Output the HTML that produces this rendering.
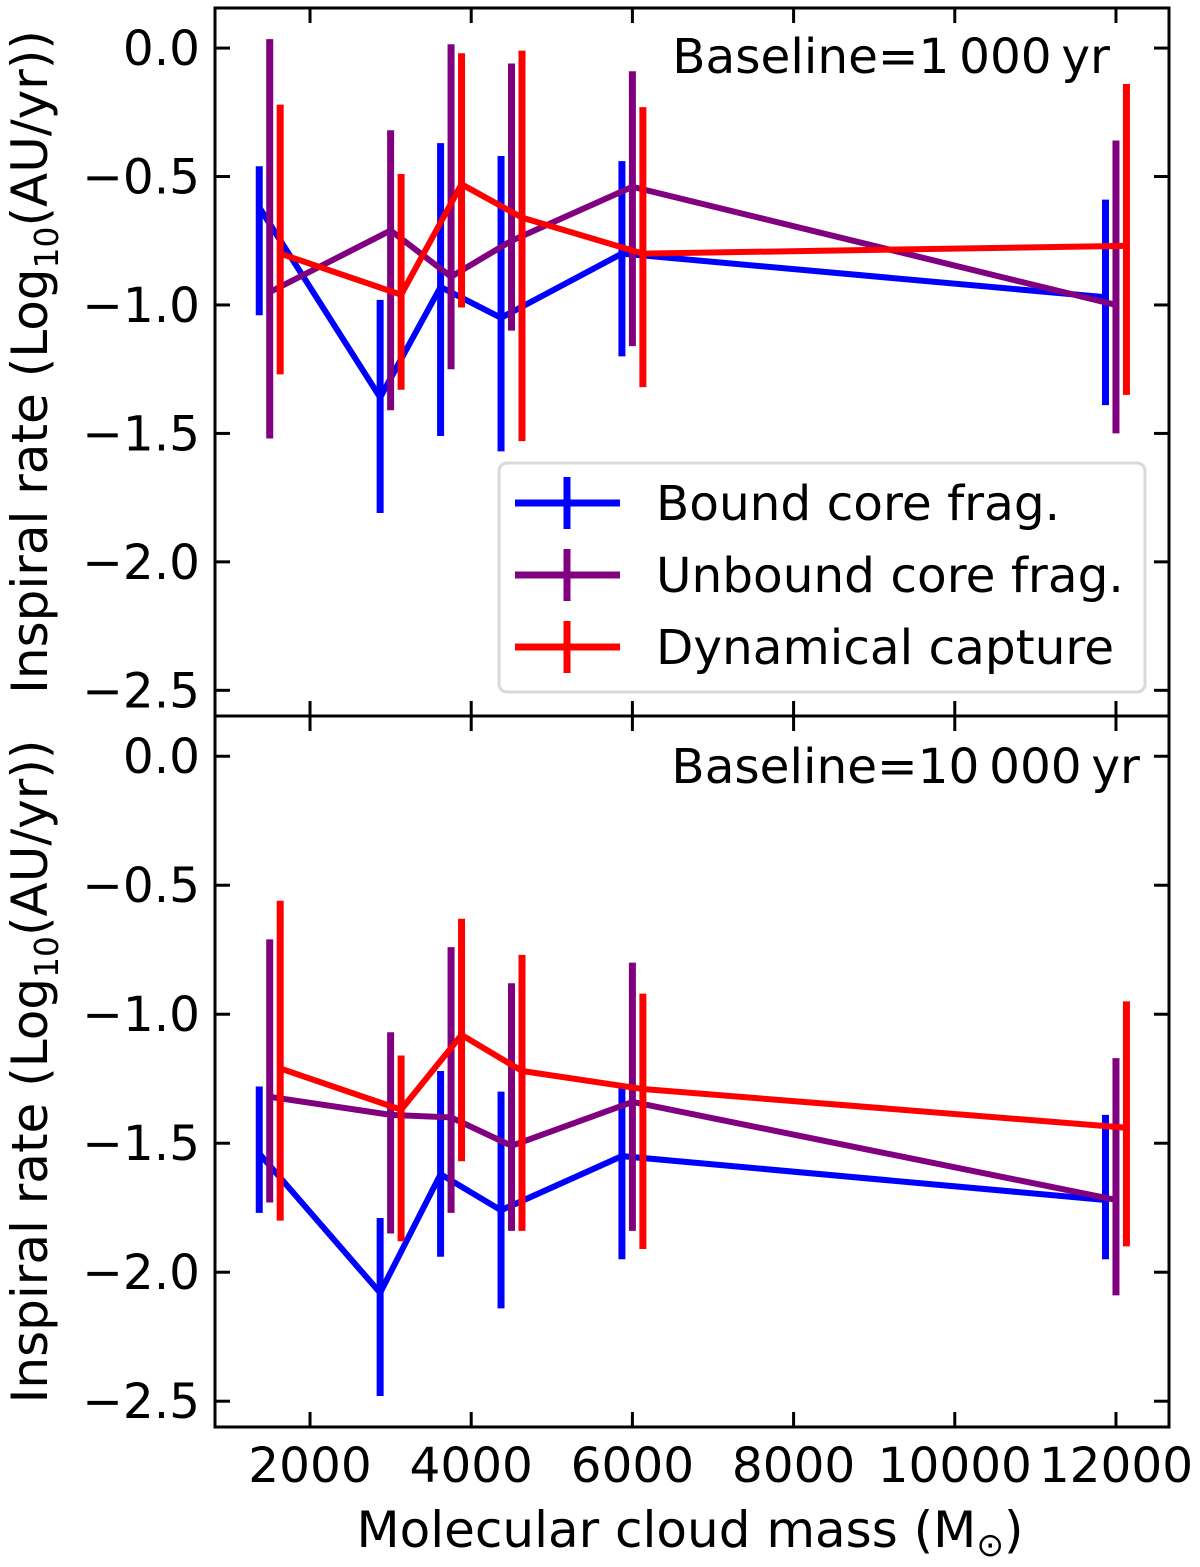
<!DOCTYPE html>
<html><head><meta charset="utf-8"><style>
html,body{margin:0;padding:0;background:#fff;}
svg{display:block;font-family:"DejaVu Sans","Liberation Sans",sans-serif;}
</style></head><body>
<svg id="chart" width="1200" height="1567" viewBox="0 0 1200 1567" xmlns="http://www.w3.org/2000/svg"></svg>
<script>
const masses = [1500, 3000, 3750, 4500, 6000, 12000];
const seriesNames = ["Bound core frag.", "Unbound core frag.", "Dynamical capture"];
const seriesColors = ["#0000ff", "#800080", "#ff0000"];
const seriesOffsets = [-130, 0, 130];
// top panel (baseline 1000 yr)
const topBound = [-0.62, -1.36, -0.93, -1.05, -0.80, -0.97];
const topBoundLo = [-1.04, -1.81, -1.51, -1.57, -1.20, -1.39];
const topBoundHi = [-0.46, -0.98, -0.37, -0.42, -0.44, -0.59];
const topUnbound = [-0.95, -0.71, -0.89, -0.75, -0.54, -1.00];
const topUnboundLo = [-1.52, -1.41, -1.25, -1.10, -1.16, -1.50];
const topUnboundHi = [0.035, -0.32, 0.015, -0.06, -0.09, -0.36];
const topCapture = [-0.80, -0.96, -0.53, -0.66, -0.80, -0.77];
const topCaptureLo = [-1.27, -1.33, -1.01, -1.53, -1.32, -1.35];
const topCaptureHi = [-0.22, -0.49, -0.02, -0.01, -0.23, -0.14];
// bottom panel (baseline 10000 yr)
const botBound = [-1.54, -2.08, -1.62, -1.76, -1.55, -1.72];
const botBoundLo = [-1.77, -2.48, -1.94, -2.14, -1.95, -1.95];
const botBoundHi = [-1.28, -1.79, -1.22, -1.30, -1.27, -1.39];
const botUnbound = [-1.32, -1.39, -1.40, -1.51, -1.34, -1.72];
const botUnboundLo = [-1.73, -1.85, -1.77, -1.84, -1.84, -2.09];
const botUnboundHi = [-0.71, -1.07, -0.74, -0.88, -0.80, -1.17];
const botCapture = [-1.21, -1.37, -1.08, -1.22, -1.29, -1.44];
const botCaptureLo = [-1.80, -1.88, -1.57, -1.84, -1.91, -1.90];
const botCaptureHi = [-0.56, -1.16, -0.63, -0.77, -0.92, -0.95];
const xTicks = [2000, 4000, 6000, 8000, 10000, 12000];
const yTicks = [0.0, -0.5, -1.0, -1.5, -2.0, -2.5];
const yTickLabels = ["0.0", "\u22120.5", "\u22121.0", "\u22121.5", "\u22122.0", "\u22122.5"];

const NS = "http://www.w3.org/2000/svg";
const svg = document.getElementById("chart");
const L = 215, R = 1169;
const xMin = 821, xMax = 12658;
const FS = 48.5;
function xs(v){ return L + (v - xMin) / (xMax - xMin) * (R - L); }
function mk(tag, attrs, parent){
  const e = document.createElementNS(NS, tag);
  for (const k in attrs) e.setAttribute(k, attrs[k]);
  (parent || svg).appendChild(e);
  return e;
}
const panels = [
  {top: 8, bot: 716, label: "Baseline=1\u2009000\u2009yr", lx: 1110, ly: 73,
   vals: [topBound, topUnbound, topCapture], lo: [topBoundLo, topUnboundLo, topCaptureLo], hi: [topBoundHi, topUnboundHi, topCaptureHi], name: "top-panel"},
  {top: 716, bot: 1427, label: "Baseline=10\u2009000\u2009yr", lx: 1140, ly: 783,
   vals: [botBound, botUnbound, botCapture], lo: [botBoundLo, botUnboundLo, botCaptureLo], hi: [botBoundHi, botUnboundHi, botCaptureHi], name: "bottom-panel"}
];
const yMaxV = 0.156, yMinV = -2.6;
panels.forEach((p, pi) => {
  const g = mk("g", {});
  
  
  const ys = v => p.top + (yMaxV - v) / (yMaxV - yMinV) * (p.bot - p.top);
  p.vals.forEach((arr, si) => {
    const sg = mk("g", {}, g);
    
    
    const col = seriesColors[si];
    arr.forEach((v, i) => {
      const x = xs(masses[i] + seriesOffsets[si]);
      const eb = mk("line", {x1: x, x2: x, y1: ys(p.lo[si][i]), y2: ys(p.hi[si][i]), stroke: col, "stroke-width": 7}, sg);
      
      
    });
    const pts = arr.map((v, i) => xs(masses[i] + seriesOffsets[si]) + "," + ys(v)).join(" ");
    const pl = mk("polyline", {points: pts, fill: "none", stroke: col, "stroke-width": 6, "stroke-linejoin": "miter"}, sg);
    
    
  });
  const fr = mk("rect", {x: L, y: p.top, width: R - L, height: p.bot - p.top, fill: "none", stroke: "#000", "stroke-width": 3}, g);
  
  
  yTicks.forEach((t, i) => {
    const y = ys(t);
    mk("line", {x1: L, x2: L + 15, y1: y, y2: y, stroke: "#000", "stroke-width": 3}, g);
    mk("line", {x1: R, x2: R - 15, y1: y, y2: y, stroke: "#000", "stroke-width": 3}, g);
    const tx = mk("text", {x: 200, y: y + 17, "text-anchor": "end", "font-size": FS}, g);
    tx.textContent = yTickLabels[i];
    
    
  });
  xTicks.forEach(t => {
    const x = xs(t);
    mk("line", {x1: x, x2: x, y1: p.bot, y2: p.bot - 15, stroke: "#000", "stroke-width": 3}, g);
    mk("line", {x1: x, x2: x, y1: p.top, y2: p.top + 15, stroke: "#000", "stroke-width": 3}, g);
    if (pi === 1) {
      const tx = mk("text", {x: x, y: 1482, "text-anchor": "middle", "font-size": FS}, g);
      tx.textContent = String(t);
      
      
    }
  });
  const yl = mk("text", {transform: "translate(47," + ((p.top + p.bot) / 2) + ") rotate(-90)", "text-anchor": "middle", "font-size": 50}, g);
  yl.innerHTML = 'Inspiral rate (Log<tspan font-size="33" dy="11">10</tspan><tspan dy="-11">(AU/yr))</tspan>';
  
  
  const an = mk("text", {x: p.lx, y: p.ly, "text-anchor": "end", "font-size": FS}, g);
  an.textContent = p.label;
  
  
});
const xl = mk("text", {x: 690, y: 1547, "text-anchor": "middle", "font-size": 50});
xl.innerHTML = 'Molecular cloud mass (M<tspan font-size="33" dy="9">\u2299</tspan><tspan dy="-9">)</tspan>';


const lg = mk("g", {});


mk("rect", {x: 499, y: 463, width: 646, height: 229, rx: 8, fill: "#fff", "fill-opacity": 0.8, stroke: "#d9d9d9", "stroke-width": 3}, lg);
seriesNames.forEach((n, i) => {
  const y = 503 + i * 72;
  const eg = mk("g", {}, lg);
  
  
  mk("line", {x1: 515, x2: 620, y1: y, y2: y, stroke: seriesColors[i], "stroke-width": 7}, eg);
  mk("line", {x1: 567, x2: 567, y1: y - 26, y2: y + 26, stroke: seriesColors[i], "stroke-width": 7}, eg);
  const t = mk("text", {x: 656, y: y + 17, "font-size": FS}, eg);
  t.textContent = n;
});
</script>
</body></html>
